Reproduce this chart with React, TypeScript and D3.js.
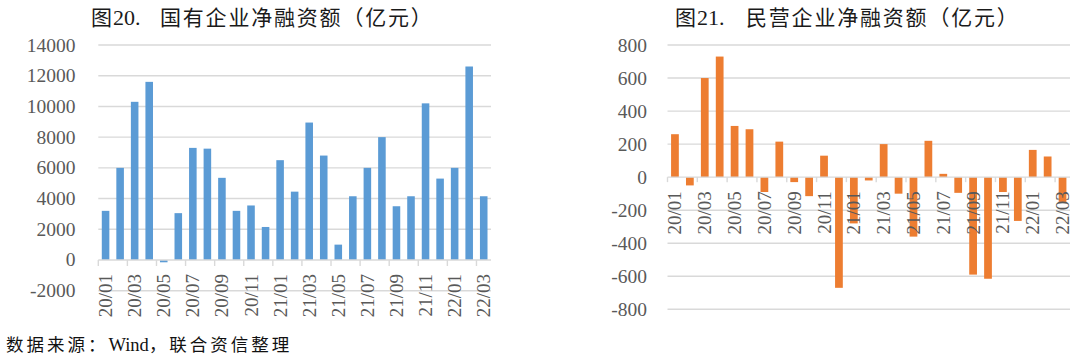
import React from "react";
import * as d3 from "d3";

const categories = [
  "20/01","20/02","20/03","20/04","20/05","20/06","20/07","20/08","20/09","20/10","20/11","20/12",
  "21/01","21/02","21/03","21/04","21/05","21/06","21/07","21/08","21/09","21/10","21/11","21/12",
  "22/01","22/02","22/03",
];

const soeValues = [3200, 6000, 10300, 11600, -150, 3050, 7300, 7250, 5350, 3200, 3550, 2150,
  6500, 4450, 8950, 6800, 1000, 4150, 6000, 8000, 3500, 4150, 10200, 5300,
  6000, 12600, 4150];

const privateValues = [260, -50, 600, 730, 310, 290, -90, 215, -30, -115, 130, -670,
  -280, -20, 200, -100, -360, 220, 20, -95, -590, -615, -90, -265,
  165, 125, -150];

const soeTicks = [-2000, 0, 2000, 4000, 6000, 8000, 10000, 12000, 14000];
const privateTicks = [-800, -600, -400, -200, 0, 200, 400, 600, 800];

const titleLeftPrefix = "图";
const titleLeftNum = "20.";
const titleLeftMain = "国有企业净融资额（亿元）";
const titleRightPrefix = "图";
const titleRightNum = "21.";
const titleRightMain = "民营企业净融资额（亿元）";

const CJK = "'Noto Sans CJK SC', 'Noto Sans', sans-serif";
const SERIF = "'Liberation Serif', 'DejaVu Serif', serif";

type PanelProps = {
  values: number[];
  ticks: number[];
  x0: number;
  x1: number;
  yTop: number;
  yBottom: number;
  labelRight: number;
  color: string;
  tickLen: number;
};

function Panel({ values, ticks, x0, x1, yTop, yBottom, labelRight, color, tickLen }: PanelProps) {
  const x = d3.scaleBand<string>().domain(categories).range([x0, x1]).paddingInner(0).paddingOuter(0);
  const y = d3.scaleLinear().domain([ticks[0], ticks[ticks.length - 1]]).range([yBottom, yTop]);
  const bw = x.bandwidth();
  const barW = bw * 0.52;
  const y0 = y(0);
  const tickIdx = d3.range(0, categories.length, 2);
  return (
    <g>
      {ticks.map((t) => (
        <g key={t}>
          {t !== 0 && (
            <line x1={x0} x2={x1} y1={y(t)} y2={y(t)} stroke="#D9D9D9" strokeWidth={1.4} />
          )}
          <text x={labelRight} y={y(t)} textAnchor="end" dominantBaseline="central"
            fontFamily={SERIF} fontSize={19.5} fill="#595959">{t}</text>
        </g>
      ))}
      {values.map((v, i) => {
        const cx = (x(categories[i]) as number) + bw / 2;
        return (
          <rect key={i} x={cx - barW / 2} y={Math.min(y(v), y0)} width={barW}
            height={Math.abs(y(v) - y0)} fill={color} />
        );
      })}
      <line x1={x0} x2={x1} y1={y0} y2={y0} stroke="#D9D9D9" strokeWidth={1.4} />
      {tickIdx.map((i) => {
        const tx = x(categories[i]) as number;
        return <line key={"t" + i} x1={tx} x2={tx} y1={y0} y2={y0 + tickLen} stroke="#D9D9D9" strokeWidth={1.4} />;
      })}
      {tickIdx.map((i) => {
        const cx = (x(categories[i]) as number) + bw / 2;
        return (
          <text key={"l" + i} transform={`translate(${cx},${y0 + 14}) rotate(-90)`}
            textAnchor="end" dominantBaseline="central" fontFamily={SERIF} fontSize={19}
            fill="#595959">{categories[i]}</text>
        );
      })}
    </g>
  );
}

export default function App() {
  return (
    <svg width={1080} height={359} style={{ position: "absolute", left: 0, top: 0, background: "#fff" }}>
      <rect width={1080} height={359} fill="#fff" />
      <text x={91} y={24.5} fontFamily={CJK} fontSize={21} fill="#1a1a1a">{titleLeftPrefix}</text>
      <text x={113} y={24.5} fontFamily={SERIF} fontSize={22} fill="#1a1a1a">{titleLeftNum}</text>
      <text x={160} y={24.5} fontFamily={CJK} fontSize={21} letterSpacing={1.8} fill="#1a1a1a">{titleLeftMain}</text>
      <text x={675} y={24.5} fontFamily={CJK} fontSize={21} fill="#1a1a1a">{titleRightPrefix}</text>
      <text x={697} y={24.5} fontFamily={SERIF} fontSize={22} fill="#1a1a1a">{titleRightNum}</text>
      <text x={746} y={24.5} fontFamily={CJK} fontSize={21} letterSpacing={1.8} fill="#1a1a1a">{titleRightMain}</text>

      <Panel values={soeValues} ticks={soeTicks} x0={98.3} x1={491} yTop={45} yBottom={290.7}
        labelRight={75.5} color="#5B9BD5" tickLen={6} />
      <Panel values={privateValues} ticks={privateTicks} x0={667.5} x1={1070} yTop={45} yBottom={309.3}
        labelRight={647} color="#ED7D31" tickLen={5} />

      <text x={6} y={350.5} fontSize={17.5} fill="#111">
        <tspan fontFamily={CJK} letterSpacing={3}>数据来源：</tspan>
        <tspan fontFamily={SERIF} fontSize={18.5}>Wind</tspan>
        <tspan fontFamily={CJK} letterSpacing={3}>，联合资信整理</tspan>
      </text>
    </svg>
  );
}
